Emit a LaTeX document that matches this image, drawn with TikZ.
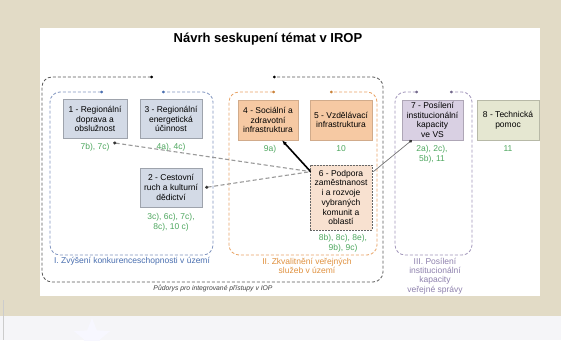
\documentclass[tikz,border=0pt]{standalone}
\usepackage{fontspec}
\setmainfont{Liberation Sans}
\usetikzlibrary{arrows.meta,shapes.geometric}

\definecolor{slidebg}{HTML}{E2DBC6}
\definecolor{lowbg}{HTML}{F5F5F8}
\definecolor{fillblue}{HTML}{D3DAE6}
\definecolor{fillorange}{HTML}{F6C9A3}
\definecolor{fillpeach}{HTML}{F8E1D0}
\definecolor{fillpurple}{HTML}{D9D0E3}
\definecolor{fillolive}{HTML}{E5E7D1}
\definecolor{grpblue}{HTML}{8296C0}
\definecolor{grporange}{HTML}{E9A466}
\definecolor{grppurple}{HTML}{A195BA}
\definecolor{labgreen}{HTML}{4FA860}
\definecolor{labblue}{HTML}{4A6FB0}
\definecolor{laborange}{HTML}{E0913F}
\definecolor{labpurple}{HTML}{8F82AE}

\newcommand{\boxfont}{\fontsize{8.5}{9.7}\selectfont}

\begin{document}
\begin{tikzpicture}[x=1pt,y=-1pt,
    topic/.style={draw, line width=0.5pt, align=center, inner sep=0.5pt,
      font=\boxfont, minimum height=39pt},
    code/.style={text=labgreen, align=center, font=\boxfont},
    group/.style={line width=0.8pt, rounded corners=10pt, dash pattern=on 3pt off 2pt},
    dots/.style={{Circle[length=2.6pt,color=#1]}-{Circle[length=2.6pt,color=#1]}},
    greylink/.style={draw=black!40, line width=1.1pt, dash pattern=on 4pt off 2.5pt},
  ]
  \useasboundingbox (0,0) rectangle (561,340);
  % slide background
  \fill[slidebg] (0,0) rectangle (561,316);
  \fill[white] (40,28) rectangle (540,296);
  \fill[lowbg] (0,316) rectangle (561,340);
  \draw[black!20] (3,300) -- (3,340);
  \node[star, star points=5, star point ratio=2.3, fill=black!5!blue!3, minimum size=38pt] (star) at (92,337) {};

  \node[font=\fontsize{13}{15}\selectfont\bfseries] (title) at (268,39) {Návrh seskupení témat v IROP};

  % groups
  \draw[group, black!65, dots=black] (153,77) -- (42,77) -- (42,282) -- (383,282) -- (383,77) -- (273,77);
  \draw[group, grpblue, dots=labblue] (103,92) -- (50,92) -- (50,255) -- (213,255) -- (213,92) -- (162,92);
  \draw[group, grporange, dots=laborange!90!black] (275,92) -- (229,92) -- (229,255) -- (377,255) -- (377,92) -- (330,92);
  \draw[group, grppurple, dots=labpurple!80!black] (418,92) -- (395,92) -- (395,255) -- (472,255) -- (472,92) -- (450,92);

  \node[font=\fontsize{6.8}{8}\selectfont\itshape, text=black!75] (base) at (213,288) {Půdorys pro integrované přístupy v IOP};
  \node[font=\boxfont, text=labblue] (gI) at (132,261) {I. Zvýšení konkurenceschopnosti v území};
  \node[font=\boxfont, text=laborange, align=center] (gII) at (307,266) {II. Zkvalitnění veřejných\\služeb v území};
  \node[font=\fontsize{8.5}{9.3}\selectfont, text=labpurple, align=center] (gIII) at (435,276) {III. Posílení\\institucionální\\kapacity\\veřejné správy};

  % topics
  \node[topic, fill=fillblue, draw=fillblue!75!black, minimum width=64pt] (t1) at (95,119) {1 - Regionální\\doprava a\\obslužnost};
  \node[topic, fill=fillblue, draw=fillblue!75!black, minimum width=62pt] (t3) at (171,119) {3 - Regionální\\energetická\\účinnost};
  \node[topic, fill=fillblue, draw=fillblue!75!black, minimum width=62pt] (t2) at (171,187.5) {2 - Cestovní\\ruch a kulturní\\dědictví};
  \node[topic, fill=fillorange, draw=fillorange!85!black, minimum width=60pt, minimum height=40pt] (t4) at (268,120) {4 - Sociální a\\zdravotní\\infrastruktura};
  \node[topic, fill=fillorange, draw=fillorange!85!black, minimum width=62pt, minimum height=40pt] (t5) at (341,120) {5 - Vzdělávací\\infrastruktura};
  \node[topic, fill=fillpeach, draw=black!60, dash pattern=on 2pt off 1pt, line width=0.7pt, minimum width=62pt, minimum height=65pt] (t6) at (341,197.5) {6 - Podpora\\zaměstnanost\\i a rozvoje\\vybraných\\komunit a\\oblastí};
  \node[topic, fill=fillpurple, draw=fillpurple!80!black, minimum width=61pt, minimum height=40pt] (t7) at (432.5,120) {7 - Posílení\\institucionální\\kapacity\\ve VS};
  \node[topic, fill=fillolive, draw=fillolive!80!black, minimum width=62pt, minimum height=40pt] (t8) at (508,120) {8 - Technická\\pomoc};

  % codes
  \node[code] (c1) at (95,147) {7b), 7c)};
  \node[code] (c3) at (171,147) {4a), 4c)};
  \node[code] (c2) at (171,222) {3c), 6c), 7c),\\8c), 10 c)};
  \node[code] (c4) at (270,149) {9a)};
  \node[code] (c5) at (341,149) {10};
  \node[code] (c6) at (343,243) {8b), 8c), 8e),\\9b), 9c)};
  \node[code] (c7) at (432,154) {2a), 2c),\\5b), 11};
  \node[code] (c8) at (508,149) {11};

  % links
  \coordinate (hub) at ([shift={(1,7)}]t6.north west);
  \draw[greylink, {Circle[length=3pt,color=black!80]}-] ([shift={(-14,4)}]t1.south east) -- (hub);
  \draw[greylink, {Circle[length=3pt,color=black!80]}-] ([xshift=3]t2.east) -- (hub);
  \draw[line width=1.6pt, -{Latex[length=5pt,width=4pt]}] (hub) -- ([xshift=14]t4.south);
  \draw[black!55, line width=0.7pt, -{Circle[length=3pt,color=black!80]}] ([shift={(1,7)}]t6.north east) -- ([xshift=10]t7.south west);
\end{tikzpicture}
\end{document}
